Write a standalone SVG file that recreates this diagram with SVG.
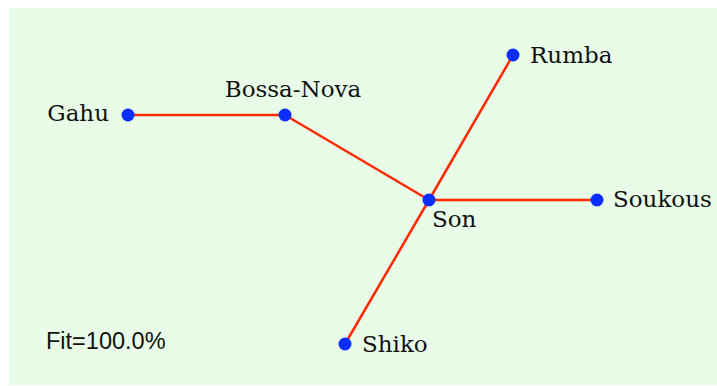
<svg xmlns="http://www.w3.org/2000/svg" width="717" height="386" viewBox="0 0 717 386">
  <style>
    .bg { fill: #e8fce8; }
    .edge { stroke: #ff2a00; stroke-width: 2.5; fill: none; }
    .node { fill: #0a2eff; }
    .lbl { font-family: "DejaVu Serif", "Liberation Serif", serif; font-size: 23px; fill: #111; }
    .fit { font-family: "Liberation Sans", Arial, sans-serif; font-size: 23.5px; fill: #111; }
  </style>
  <rect class="bg" x="9" y="8" width="708" height="377"/>
  <g id="edges">
    <line class="edge" x1="128" y1="115" x2="285" y2="115"/>
    <line class="edge" x1="285" y1="115" x2="429" y2="200"/>
    <line class="edge" x1="429" y1="200" x2="513" y2="55"/>
    <line class="edge" x1="429" y1="200" x2="597" y2="200"/>
    <line class="edge" x1="429" y1="200" x2="345" y2="344"/>
  </g>
  <g id="gahu"><circle class="node" cx="128" cy="115" r="6.5"/><text class="lbl" x="109" y="121" text-anchor="end">Gahu</text></g>
  <g id="bossa-nova"><circle class="node" cx="285" cy="115" r="6.5"/><text class="lbl" x="293" y="97" text-anchor="middle">Bossa-Nova</text></g>
  <g id="son"><circle class="node" cx="429" cy="200" r="6.5"/><text class="lbl" x="432" y="227">Son</text></g>
  <g id="rumba"><circle class="node" cx="513" cy="55" r="6.5"/><text class="lbl" x="530" y="63">Rumba</text></g>
  <g id="soukous"><circle class="node" cx="597" cy="200" r="6.5"/><text class="lbl" x="613" y="207">Soukous</text></g>
  <g id="shiko"><circle class="node" cx="345" cy="344" r="6.5"/><text class="lbl" x="362" y="352">Shiko</text></g>
  <text class="fit" x="46" y="349">Fit=100.0%</text>
</svg>
